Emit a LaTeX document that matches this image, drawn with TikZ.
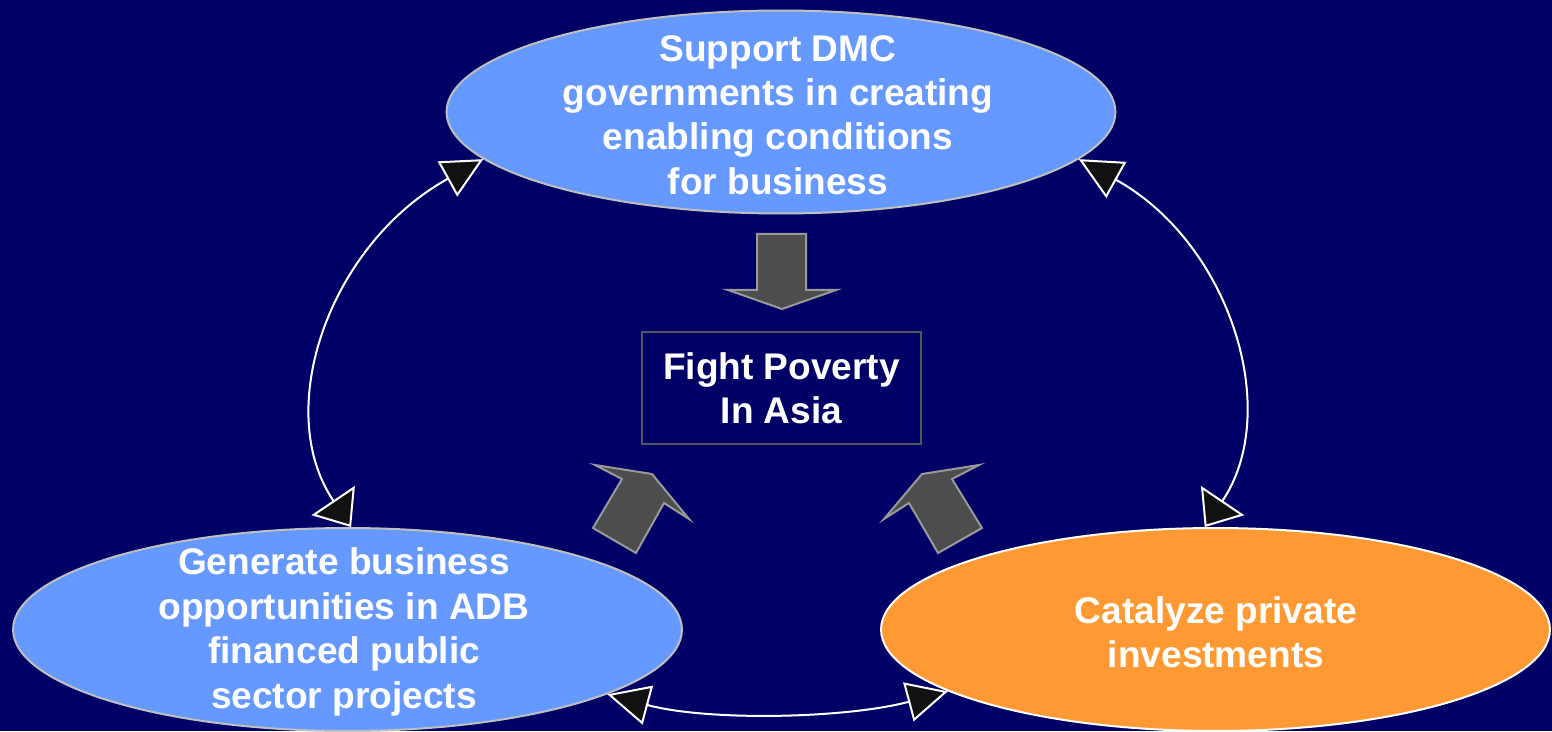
\documentclass[tikz,border=0pt]{standalone}
\usepackage{fontspec}
\setmainfont{Liberation Sans}
\usetikzlibrary{shapes.geometric,arrows.meta}
\definecolor{navy}{HTML}{000066}
\definecolor{skyblue}{HTML}{6699FF}
\definecolor{tangerine}{HTML}{FF9933}
\definecolor{blockgray}{HTML}{4D4D4D}
\definecolor{rimgray}{HTML}{999999}
\definecolor{boxgray}{HTML}{555555}
\definecolor{headfill}{HTML}{111111}

\begin{document}
\begin{tikzpicture}[x=0.02cm, y=0.02cm,
    bubble/.style ={ellipse, draw=lightgray, line width=0.04cm, inner sep=0pt, minimum width=13.38cm, minimum height=4.06cm},
    bubbletext/.style ={align=center, text=white, font=\fontsize{21.1}{25.3}\selectfont\bfseries},
    goalbox/.style ={rectangle, draw=boxgray, line width=0.04cm, minimum width=5.58cm, minimum height=2.24cm},
    loopline/.style ={draw=white, line width=0.04cm},
    blockarrow/.style ={fill=blockgray, draw=rimgray, line width=0.04cm, line join=miter}]
   \path[use as bounding box, fill=navy] (0,0) rectangle (1552,731);
   % the three fields
   \node[bubble, fill=skyblue] (top) at (781,619) {};
   \node[bubble, fill=skyblue] (bl)  at (347.5,101.5) {};
   \node[bubble, fill=tangerine, draw=white] (br) at (1215.5,101.5) {};
   \node[bubbletext] (toptext) at (778,616) {Support DMC\\governments in creating\\enabling conditions\\for business};
   \node[bubbletext] (bltext)  at (344,99) {Generate business\\opportunities in ADB\\financed public\\sector projects};
   \node[bubbletext] (brtext)  at (1216,99) {Catalyze private\\investments};
   \node[goalbox, bubbletext] (goal) at (781.5,343) {Fight Poverty\\In Asia};
   % block arrows into the goal
   \draw[blockarrow] (757,497) -- (806,497) -- (806,441) -- (836,441) -- (782,422) -- (728,441) -- (757,441) -- cycle;
   \draw[blockarrow] (595,266) -- (652,257) -- (689,212) -- (664,228) -- (636,178) -- (593,203) -- (622,252) -- cycle;
   \draw[blockarrow] (979,266) -- (922,257) -- (884,212) -- (909,228) -- (938,178) -- (982,203) -- (952,252) -- cycle;
   % cycle connectors
   \draw[loopline, {Triangle[length=0.82cm,width=0.8cm,fill=headfill]}-{Triangle[length=0.64cm,width=1.04cm,fill=headfill]}]
      (top.189) to[out=209, in=124, out distance=3.5cm, in distance=2.85cm] (bl.88);
   \draw[loopline, {Triangle[length=0.86cm,width=0.82cm,fill=headfill]}-{Triangle[length=0.64cm,width=1.04cm,fill=headfill]}]
      (top.-9) to[out=-29, in=56, out distance=3.45cm, in distance=2.8cm] (br.96);
   \draw[loopline, {Triangle[length=0.84cm,width=0.8cm,fill=headfill]}-{Triangle[length=0.82cm,width=0.8cm,fill=headfill]}]
      (bl.-14) to[out=-15, in=195, distance=2.1cm] (br.193);
\end{tikzpicture}
\end{document}
